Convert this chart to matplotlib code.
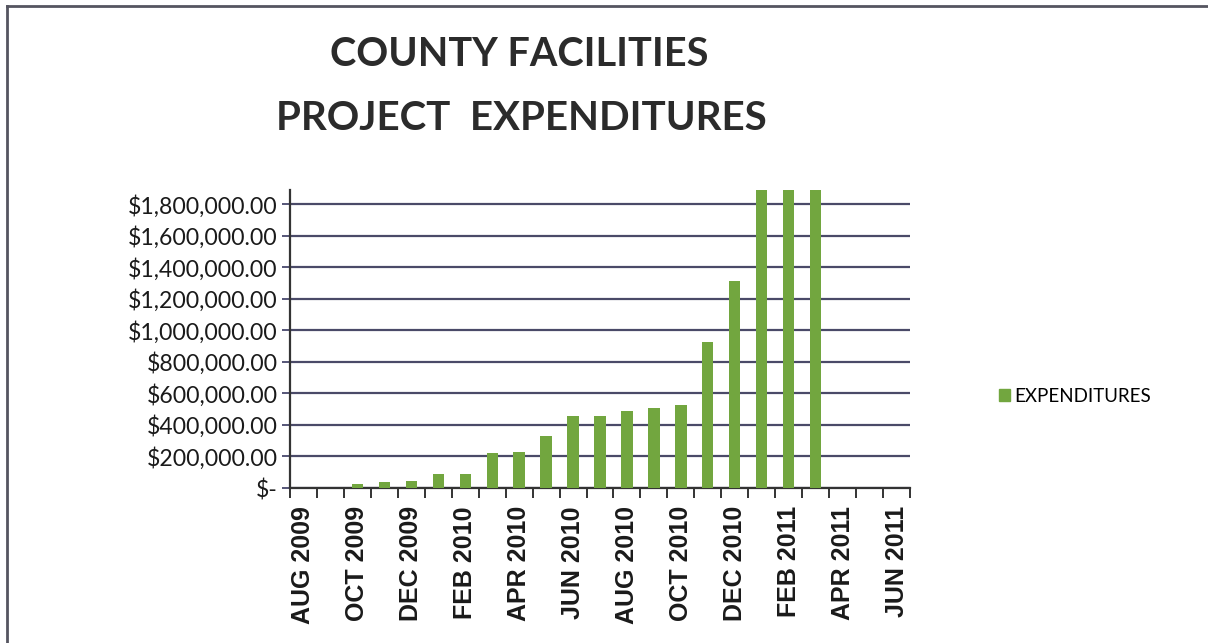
import matplotlib
matplotlib.use("Agg")
import matplotlib.pyplot as plt
from matplotlib.lines import Line2D
import numpy as np

months = ["AUG 2009", "SEP 2009", "OCT 2009", "NOV 2009", "DEC 2009",
          "JAN 2010", "FEB 2010", "MAR 2010", "APR 2010", "MAY 2010",
          "JUN 2010", "JUL 2010", "AUG 2010", "SEP 2010", "OCT 2010",
          "NOV 2010", "DEC 2010", "JAN 2011", "FEB 2011", "MAR 2011",
          "APR 2011", "MAY 2011", "JUN 2011"]
expenditures = [0, 0, 27600, 36000, 42000,
                91000, 91000, 223000, 229000, 329000,
                454000, 454000, 490000, 509000, 528000,
                929000, 1311000, 1950000, 1950000, 1950000,
                0, 0, 0]
ytick_values = [0, 200000, 400000, 600000, 800000, 1000000,
                1200000, 1400000, 1600000, 1800000]
title_lines = ["COUNTY FACILITIES", "PROJECT  EXPENDITURES"]
series_name = "EXPENDITURES"

def fmt(v):
    return "$-" if v == 0 else "${:,.2f}".format(v)

W, H = 1208, 643
fig = plt.figure(figsize=(W / 100, H / 100), dpi=100)
fig.patch.set_facecolor("white")

ax = fig.add_axes([290 / W, 1 - 488 / H, 620 / W, (488 - 190) / H])
x = np.arange(len(months))
bar_color = "#72a63f"
ax.bar(x, expenditures, width=0.42, color=bar_color, edgecolor="none",
       zorder=3, label=series_name)

ax.set_xlim(-0.5, len(months) - 0.5)
ax.set_ylim(0, 1890000)

ax.set_yticks(ytick_values)
ax.set_yticklabels([fmt(v) for v in ytick_values], fontfamily="Lato",
                   fontsize=16.6, color="#1a1a1a")
ax.yaxis.grid(True, color="#4a4a68", linewidth=1.6, zorder=1)
ax.set_axisbelow(True)

# x ticks: boundaries between categories
ax.set_xticks(np.arange(-0.5, len(months), 1.0), minor=True)
ax.set_xticks(x[::2])
ax.set_xticklabels(months[::2], rotation=90, fontfamily="Liberation Sans",
                   fontweight="bold", fontsize=18, color="#1a1a1a")
ax.tick_params(axis="x", which="major", length=0, pad=13)
ax.tick_params(axis="x", which="minor", length=7, width=1.4, color="#333333",
               direction="out")
ax.tick_params(axis="y", length=6, width=1.4, color="#555577", pad=3)

for s in ["top", "right"]:
    ax.spines[s].set_visible(False)
ax.spines["left"].set_color("#333333")
ax.spines["left"].set_linewidth(1.6)
ax.spines["bottom"].set_color("#333333")
ax.spines["bottom"].set_linewidth(1.6)

# title
fig.text(519 / W, 1 - 54 / H, title_lines[0], ha="center", va="center",
         fontfamily="Lato", fontweight="bold", fontsize=28.5, color="#2b2b2b")
fig.text(521 / W, 1 - 118 / H, title_lines[1], ha="center", va="center",
         fontfamily="Lato", fontweight="bold", fontsize=29, color="#2b2b2b")

# legend
handle = plt.Rectangle((0, 0), 1, 1, color=bar_color)
fig.legend([handle], [series_name], loc="center left",
           bbox_to_anchor=(982 / W, 1 - 396 / H), frameon=False,
           prop={"family": "Lato", "size": 13.5}, handlelength=0.6,
           handleheight=0.6, handletextpad=0.2)

# frame lines (left and top)
fig.add_artist(Line2D([7 / W, 7 / W], [0, 1 - 6 / H], transform=fig.transFigure,
                      color="#555560", linewidth=2))
fig.add_artist(Line2D([7 / W, 1], [1 - 6 / H, 1 - 6 / H], transform=fig.transFigure,
                      color="#555560", linewidth=2))

fig.savefig("out.png", dpi=100)
